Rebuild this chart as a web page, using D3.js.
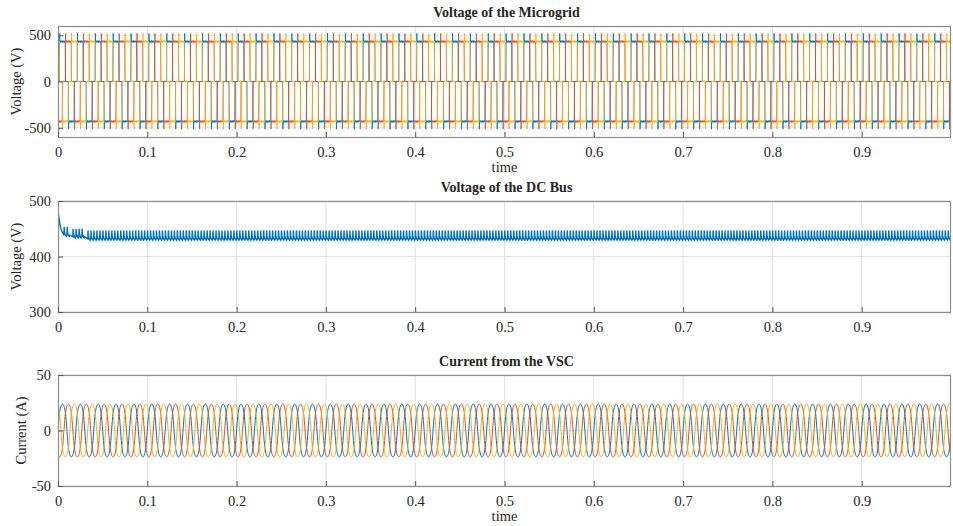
<!DOCTYPE html>
<html>
<head>
<meta charset="utf-8">
<script src="https://cdn.jsdelivr.net/npm/d3@7"></script>
<style>
  body { margin: 0; background: #fff; }
  text { font-family: "Liberation Serif", "Times New Roman", serif; fill: #262626; }
</style>
</head>
<body>
<div id="chart"></div>
<script>
var W = 953, H = 526;
var colours = ['#0072BD', '#D95319', '#EDB120'];

// time axis
var timeTicks = [0, 0.1, 0.2, 0.3, 0.4, 0.5, 0.6, 0.7, 0.8, 0.9];
var gridFreq = 50;            // Hz
var phaseLag = [0, 120, 240]; // deg, phases a b c

// one period of the microgrid line voltage, [angle deg, volts]
var vCycle = [[0,0],[10,6],[20,-5],[27,0],[33,520],[37,425],[45,442],[55,422],[65,440],[75,424],[85,443],[95,421],
              [105,441],[115,423],[125,440],[135,424],[145,436],[153,0],[163,-6],[173,5],[183,-4],[193,6],[203,-5],[207,0],
              [213,-515],[217,-425],[225,-442],[235,-422],[245,-440],[255,-424],[265,-443],[275,-421],[285,-441],
              [295,-423],[305,-440],[315,-424],[325,-436],[333,0],[343,5],[353,-6],[360,0]];
var vTicks = [-500, 0, 500];

// DC bus start-up, [t, volts]
var dcStart = [[0,300],[0.0002,478],[0.001,471],[0.002,460],[0.003,451],[0.004,446],[0.005,444]];
// ripple stages after start-up (6-pulse, 300 Hz)
var dcRippleFreq = 300;
var dcStages = [
  { from: 0.005, to: 0.015, low: 436, high: 453 },
  { from: 0.015, to: 0.032, low: 433, high: 450 },
  { from: 0.032, to: 1.0,   low: 429, high: 447 }
];
// one ripple tooth: [fraction of period, fraction of band]
var dcTooth = [[0,0.15],[0.08,1],[0.2,0.45],[0.35,0.3],[0.55,0.12],[0.8,0.02],[1,0.15]];
var dcTicks = [300, 400, 500];

// one period of the VSC current, [angle deg, amps]
var iCycle = [[0,0],[15,9],[30,15.5],[45,19.5],[60,22],[75,23.4],[90,23.8],[105,23.4],[120,22],[135,19.5],[150,15.5],[165,9],
              [180,0],[195,-9],[210,-15.5],[225,-19.5],[240,-22],[255,-23.4],[270,-23.8],[285,-23.4],[300,-22],[315,-19.5],[330,-15.5],[345,-9],[360,0]];
var iTicks = [-50, 0, 50];

function expand(cycle, lag) {
  var pts = [];
  for (var k = -1; k <= gridFreq; k++) {
    cycle.forEach(function(p) {
      var t = (k + (p[0] + lag) / 360) / gridFreq;
      if (t >= 0 && t <= 1) pts.push([t, p[1]]);
    });
  }
  return pts;
}

function dcSeries() {
  var pts = dcStart.slice();
  dcStages.forEach(function(s) {
    var n0 = Math.ceil(s.from * dcRippleFreq), n1 = Math.floor(s.to * dcRippleFreq);
    for (var n = n0; n < n1; n++) {
      dcTooth.forEach(function(p) {
        var t = (n + p[0]) / dcRippleFreq;
        if (t >= s.from && t <= s.to) pts.push([t, s.low + p[1] * (s.high - s.low)]);
      });
    }
  });
  return pts;
}

var svg = d3.select("#chart").append("svg").attr("width", W).attr("height", H);

var left = 58, right = 951;
var x = d3.scaleLinear().domain([0, 1]).range([left, right]);
var fmt = function(d){ return String(d); };

function panel(opt) {
  var y = d3.scaleLinear().domain(opt.domain).range([opt.bottom, opt.top]);
  var g = svg.append("g");
  var id = "clip" + opt.top;
  svg.append("clipPath").attr("id", id).append("rect")
    .attr("x", left).attr("y", opt.top).attr("width", right - left).attr("height", opt.bottom - opt.top);

  // grid
  g.selectAll(".gx").data(timeTicks.slice(1)).enter().append("line")
    .attr("x1", function(d){ return x(d); }).attr("x2", function(d){ return x(d); })
    .attr("y1", opt.top).attr("y2", opt.bottom)
    .style("stroke", "#e3e3e3").style("stroke-width", 1);
  g.selectAll(".gy").data(opt.ticks).enter().append("line")
    .attr("x1", left).attr("x2", right)
    .attr("y1", function(d){ return y(d); }).attr("y2", function(d){ return y(d); })
    .style("stroke", "#e3e3e3").style("stroke-width", 1);

  var line = d3.line().x(function(d){ return x(d[0]); }).y(function(d){ return y(d[1]); });
  if (opt.curve) line.curve(opt.curve);
  var lines = g.append("g").attr("clip-path", "url(#" + id + ")");
  opt.series.forEach(function(s, i) {
    lines.append("path").attr("d", line(s))
      .style("fill", "none").style("stroke", colours[i]).style("stroke-width", opt.width || 1)
      .style("stroke-opacity", opt.opacity || 1);
  });

  // box
  g.append("rect").attr("x", left + 0.5).attr("y", opt.top + 0.5)
    .attr("width", right - left - 1).attr("height", opt.bottom - opt.top)
    .style("fill", "none").style("stroke", "#8c8c8c").style("stroke-width", 1.2);

  // ticks inward
  var xa = d3.axisBottom(x).tickValues(timeTicks).tickSizeInner(-5).tickSizeOuter(0)
    .tickPadding(10).tickFormat(fmt);
  var gx = g.append("g").attr("transform", "translate(0," + opt.bottom + ")").call(xa);
  gx.select(".domain").remove();
  gx.selectAll("line").style("stroke", "#555");
  gx.selectAll("text").style("font-size", "14.5px").style("font-family", "Liberation Serif");

  var ya = d3.axisLeft(y).tickValues(opt.ticks).tickSizeInner(-5).tickSizeOuter(0).tickPadding(7).tickFormat(fmt);
  var gy = g.append("g").attr("transform", "translate(" + left + ",0)").call(ya);
  gy.select(".domain").remove();
  gy.selectAll("line").style("stroke", "#555");
  gy.selectAll("text").style("font-size", "14.5px").style("font-family", "Liberation Serif");

  svg.append("text").attr("x", (left + right) / 2 + 2).attr("y", opt.top - 9)
    .attr("text-anchor", "middle").style("font-size", "14px").style("font-weight", "bold")
    .text(opt.title);
  svg.append("text")
    .attr("transform", "translate(" + opt.labelX + "," + (opt.top + opt.bottom) / 2 + ") rotate(-90)")
    .attr("text-anchor", "middle").style("font-size", "14.5px").text(opt.ylabel);
  if (opt.xlabel) {
    svg.append("text").attr("x", (left + right) / 2).attr("y", opt.bottom + 35)
      .attr("text-anchor", "middle").style("font-size", "14.5px").text(opt.xlabel);
  }
}

panel({
  top: 26, bottom: 137, domain: [-600, 600], ticks: vTicks,
  title: "Voltage of the Microgrid", ylabel: "Voltage (V)", xlabel: "time", labelX: 21,
  series: phaseLag.map(function(l){ return expand(vCycle, l); }), width: 1, opacity: 0.85
});

panel({
  top: 201, bottom: 312, domain: [300, 500], ticks: dcTicks,
  title: "Voltage of the DC Bus", ylabel: "Voltage (V)", labelX: 21,
  series: [dcSeries()], width: 1.4
});

panel({
  top: 375, bottom: 486, domain: [-50, 50], ticks: iTicks,
  title: "Current from the VSC", ylabel: "Current (A)", xlabel: "time", labelX: 26,
  series: phaseLag.map(function(l){ return expand(iCycle, l); }), width: 1,
  curve: d3.curveMonotoneX
});
</script>
</body>
</html>
